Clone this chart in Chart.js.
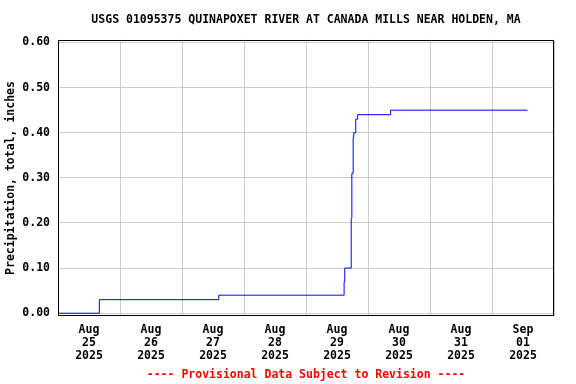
<!DOCTYPE html>
<html>
<head>
<meta charset="utf-8">
<script src="https://cdn.jsdelivr.net/npm/chart.js@4.4.1/dist/chart.umd.min.js"></script>
<style>
  html, body { margin: 0; padding: 0; background: #fff; }
  #wrap { width: 576px; height: 384px; }
</style>
</head>
<body>
<div id="wrap"><canvas id="chart" width="576" height="384"></canvas></div>
<script>
// ==== DATA ====
const TITLE = "USGS 01095375 QUINAPOXET RIVER AT CANADA MILLS NEAR HOLDEN, MA";
const Y_TITLE = "Precipitation, total, inches";
const FOOTER = "---- Provisional Data Subject to Revision ----";

// times where the cumulative total changes, and the total from that time on
const obsTimes = [
  "2025-08-25 00:00", "2025-08-25 16:00", "2025-08-27 14:15",
  "2025-08-29 14:45", "2025-08-29 15:00", "2025-08-29 17:30",
  "2025-08-29 17:45", "2025-08-29 18:15", "2025-08-29 18:30",
  "2025-08-29 19:15", "2025-08-29 20:00", "2025-08-30 08:45",
  "2025-09-01 13:45"
];
const precipValues = [
  0.00, 0.03, 0.04,
  0.07, 0.10, 0.21,
  0.31, 0.39, 0.40,
  0.43, 0.44, 0.45,
  0.45
];

// x tick labels, one per day (centred on noon)
const tickMonths = ["Aug", "Aug", "Aug", "Aug", "Aug", "Aug", "Aug", "Sep"];
const tickDays   = ["25", "26", "27", "28", "29", "30", "31", "01"];
const tickYears  = ["2025", "2025", "2025", "2025", "2025", "2025", "2025", "2025"];
const yTicks = [0.00, 0.10, 0.20, 0.30, 0.40, 0.50, 0.60];

// Utilities
const T0 = Date.UTC(2025, 7, 25, 0, 0);
function hoursFrom(s) {
  const [d, t] = s.split(' ');
  const [y, m, day] = d.split('-').map(Number);
  const [h, mi] = t.split(':').map(Number);
  return (Date.UTC(y, m - 1, day, h, mi) - T0) / 3.6e6;
}
const points = obsTimes.map((t, i) => ({ x: hoursFrom(t), y: precipValues[i] }));

const FONT = { family: "'DejaVu Sans Mono', monospace", size: 11.5, weight: 'bold' };

// black frame round the plot area
const frame = {
  id: 'frame',
  afterDraw(chart) {
    const a = chart.chartArea, ctx = chart.ctx;
    ctx.save();
    ctx.strokeStyle = '#000';
    ctx.lineWidth = 1;
    ctx.strokeRect(Math.round(a.left) + 0.5, Math.round(a.top) + 0.5,
      Math.round(a.right - a.left) - 1, Math.round(a.bottom - a.top) - 1);
    ctx.restore();
  }
};

new Chart(document.getElementById('chart'), {
  type: 'line',
  data: {
    datasets: [{
      data: points,
      borderColor: '#0000ff',
      borderWidth: 1,
      pointRadius: 0,
      stepped: 'before',
      fill: false
    }]
  },
  options: {
    responsive: false,
    animation: false,
    layout: { padding: { left: 0, right: 22, top: 0, bottom: 2 } },
    plugins: {
      legend: { display: false },
      tooltip: { enabled: false },
      title: {
        display: true, text: TITLE, color: '#000', fullSize: false,
        font: FONT, padding: { top: 13, bottom: 13 }
      },
      subtitle: {
        display: true, text: FOOTER, color: '#ff0000', position: 'bottom', fullSize: false,
        font: FONT, padding: { top: 4, bottom: 0 }
      }
    },
    scales: {
      x: {
        type: 'linear', min: 0, max: 192,
        border: { display: false },
        grid: {
          drawTicks: false,
          color: c => (c.tick && c.tick.value % 24 === 0) ? '#cccccc' : 'rgba(0,0,0,0)'
        },
        ticks: {
          stepSize: 12, autoSkip: false, maxRotation: 0, padding: 8,
          color: '#000', font: { ...FONT, lineHeight: 1.09 },
          callback: v => {
            if (v % 24 !== 12) return '';
            const i = (v - 12) / 24;
            return [tickMonths[i], tickDays[i], tickYears[i]];
          }
        },
        afterFit: s => { s.height = 48; }
      },
      y: {
        min: -0.0066, max: 0.606,
        border: { display: false },
        grid: { drawTicks: false, color: '#cccccc' },
        afterBuildTicks: s => { s.ticks = yTicks.map(v => ({ value: v })); },
        ticks: { padding: 8, color: '#000', font: FONT, callback: v => v.toFixed(2) },
        title: { display: true, text: Y_TITLE, color: '#000', font: FONT, padding: { top: 4, bottom: 0 } },
        afterFit: s => { s.width = 58; }
      }
    }
  },
  plugins: [frame]
});
</script>
</body>
</html>
